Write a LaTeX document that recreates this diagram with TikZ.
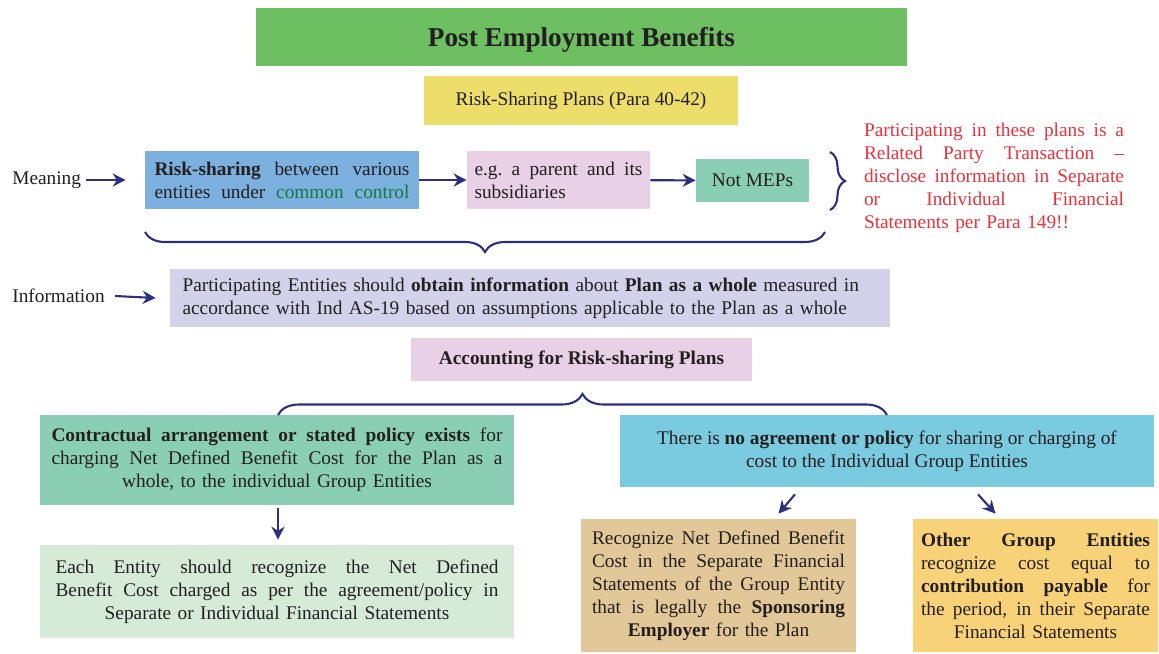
\documentclass[tikz,border=0pt]{standalone}
\usepackage{fontspec}
\setmainfont{Liberation Serif}
\usetikzlibrary{arrows.meta, positioning, decorations.pathreplacing}

\definecolor{navy}{RGB}{45,48,128}
\definecolor{ink}{RGB}{35,31,32}
\definecolor{headgreen}{RGB}{110,191,98}
\definecolor{plansyellow}{RGB}{237,221,106}
\definecolor{riskblue}{RGB}{124,176,222}
\definecolor{lightpink}{RGB}{232,208,230}
\definecolor{mint}{RGB}{138,206,181}
\definecolor{notered}{RGB}{232,50,60}
\definecolor{lavender}{RGB}{211,210,234}
\definecolor{palegreen}{RGB}{213,235,216}
\definecolor{skyblue}{RGB}{122,202,224}
\definecolor{tan}{RGB}{226,200,152}
\definecolor{sand}{RGB}{248,210,120}
\definecolor{ctrlgreen}{RGB}{22,120,62}

% one justified line (tikz align fixes \spaceskip, so reset it)
\newcommand\jl[1]{\makebox[\hsize][s]{\spaceskip=0pt\xspaceskip=0pt #1}}

\begin{document}
\begin{tikzpicture}[
    x=0.02cm, y=-0.02cm,
    bx/.style={rectangle, inner sep=0pt, align=center, text=ink, font=\fontsize{11}{13.1}\selectfont},
    lb/.style={inner sep=0pt, anchor=west, text=ink, font=\fontsize{11}{13.1}\selectfont},
    a/.style={-{Stealth[length=2.6mm, width=2.6mm]}, line width=1.2pt, navy},
    br/.style={decorate, line width=1.2pt, navy},
]
\useasboundingbox (0,0) rectangle (1159,653);

% Header
\node[bx, fill=headgreen, minimum width=13.02cm, minimum height=1.16cm, text depth=0pt, font=\fontsize{15.5}{18}\selectfont\bfseries] (title) at (581.5,37) {Post Employment Benefits};
\node[bx, fill=plansyellow, minimum width=6.28cm, minimum height=0.98cm] (plans) at (581,100.5) {Risk-Sharing Plans (Para 40-42)};

% Meaning
\node[lb] (meaning) at (12,180) {Meaning};
\node[bx, fill=riskblue, minimum width=5.48cm, minimum height=1.16cm, text width=5.1cm] (risk) at (282,180)
    {\jl{\textbf{Risk-sharing} between various}\\\jl{entities under \textcolor{ctrlgreen}{common control}}};
\node[bx, fill=lightpink, minimum width=3.66cm, minimum height=1.16cm, text width=3.36cm, align=left] (eg) at (558.5,180)
    {\jl{e.g.\ a parent and its}\\subsidiaries};
\node[bx, fill=mint, minimum width=2.26cm, minimum height=0.86cm] (notmep) at (752.5,180.5) {Not MEPs};
\node[bx, text width=5.2cm, align=left, text=notered] (note) at (994,178)
    {\jl{Participating in these plans is a}\\\jl{Related Party Transaction --}\\\jl{disclose information in Separate}\\\jl{or Individual Financial}\\Statements per Para 149!!};

% Information
\node[lb] (info) at (12,296) {Information};
\node[bx, fill=lavender, minimum width=14.4cm, minimum height=1.16cm, text width=13.9cm, align=left] (obtain) at (530,298)
    {Participating Entities should \textbf{obtain information} about \textbf{Plan as a whole} measured in\\accordance with Ind AS-19 based on assumptions applicable to the Plan as a whole};

% Accounting
\node[bx, fill=lightpink, minimum width=6.82cm, minimum height=0.86cm, font=\fontsize{11}{13.1}\selectfont\bfseries] (acct) at (581.5,359.5) {Accounting for Risk-sharing Plans};

\node[bx, fill=mint, minimum width=9.48cm, minimum height=1.8cm, text width=9.02cm] (contract) at (277,460)
    {\jl{\textbf{Contractual arrangement or stated policy exists} for}\\\jl{charging Net Defined Benefit Cost for the Plan as a}\\whole, to the individual Group Entities};
\node[bx, fill=palegreen, minimum width=9.48cm, minimum height=1.86cm, text width=8.86cm] (each) at (277,591.5)
    {\jl{Each Entity should recognize the Net Defined}\\\jl{Benefit Cost charged as per the agreement/policy in}\\Separate or Individual Financial Statements};

\node[bx, fill=skyblue, minimum width=10.68cm, minimum height=1.44cm] (noagree) at (887,451)
    {There is \textbf{no agreement or policy} for sharing or charging of\\cost to the Individual Group Entities};
\node[bx, fill=tan, minimum width=5.5cm, minimum height=2.66cm, text width=5.06cm] (sponsor) at (718.5,585.5)
    {\jl{Recognize Net Defined Benefit}\\\jl{Cost in the Separate Financial}\\\jl{Statements of the Group Entity}\\\jl{that is legally the \textbf{Sponsoring}}\\\textbf{Employer} for the Plan};
\node[bx, fill=sand, minimum width=4.9cm, minimum height=2.66cm, text width=4.58cm] (other) at (1035.5,585.5)
    {\jl{\textbf{Other Group Entities}}\\\jl{recognize cost equal to}\\\jl{\textbf{contribution payable} for}\\\jl{the period, in their Separate}\\Financial Statements};

% Arrows
\draw[a] ([xshift=0.1cm]meaning.east) -- ([xshift=-0.38cm]risk.west);
\draw[a] (risk) -- (eg);
\draw[a] (eg) -- (notmep);
\draw[a] ([xshift=0.2cm]info.east) -- ([xshift=-0.28cm]obtain.west);
\draw[a] ([shift={(1,3)}]contract.south) -- ([shift={(1,-5)}]each.north);
\draw[a] ([shift={(-92,7)}]noagree.south) -- ([shift={(60,-5)}]sponsor.north);
\draw[a] ([shift={(91,7)}]noagree.south) -- ([shift={(-40,-5)}]other.north);

% Braces
\draw[br, decoration={brace, amplitude=0.3cm}] (830,152) -- (830,210);
\draw[br, decoration={brace, amplitude=0.4cm}] (825,232) -- (145,232);
\draw[br, decoration={brace, amplitude=0.42cm}] (278,415) -- (887,415);
\end{tikzpicture}
\end{document}
